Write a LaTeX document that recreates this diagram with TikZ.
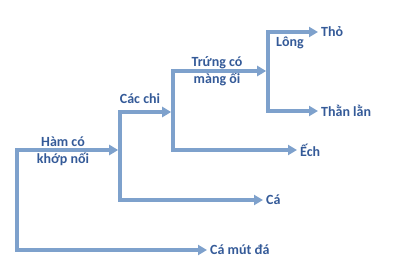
\documentclass[tikz,border=0pt]{standalone}
\usepackage{fontspec}
\setmainfont{Carlito}
\usetikzlibrary{arrows.meta}
\definecolor{linkblue}{RGB}{126,161,204}
\definecolor{textblue}{RGB}{52,90,152}

\begin{document}
\begin{tikzpicture}[x=1pt, y=-1pt,
        every node/.style={font=\fontsize{14}{17}\selectfont\bfseries, text=textblue},
        clade/.style={{Triangle[length=9pt,width=10pt]}-{Triangle[length=9pt,width=10pt]},
            line width=3.5pt, draw=linkblue, line join=miter},
        taxon/.style={anchor=west, inner sep=3pt},
        trait/.style={align=center, inner sep=1pt}
      ]
      \useasboundingbox (0,0) rectangle (394,274);

      % gốc của từng nhánh
      \coordinate (hamT)   at (17,150);
      \coordinate (hamB)   at (17,250);
      \coordinate (chiT)   at (120,112);
      \coordinate (chiB)   at (120,200);
      \coordinate (trungT) at (173,71);
      \coordinate (trungB) at (173,150);
      \coordinate (longT)  at (268,32);
      \coordinate (longB)  at (268,111);

      \coordinate (chiIn)   at (118.2,150);
      \coordinate (trungIn) at (171.2,112);
      \coordinate (longIn)  at (266.2,71);

      % các loài
      \node[taxon] (mut)  at (207,250) {Cá mút đá};
      \node[taxon] (ca)   at (263,200) {Cá};
      \node[taxon] (ech)  at (297,150) {Ếch};
      \node[taxon] (tho)  at (318,32)  {Thỏ};
      \node[taxon] (than) at (318,111) {Thằn lằn};

      % các đặc điểm
      \node[trait] (ham)   at (63,151)  {Hàm có\\khớp nối};
      \node[trait] (chi)   at (140,99)  {Các chi};
      \node[trait] (trung) at (217,71)  {Trứng có\\màng ối};
      \node[trait] (long)  at (290,43)  {Lông};

      \draw[clade] (chiIn)   -- (hamT)   -- (hamB)   -- (mut.west);
      \draw[clade] (trungIn) -- (chiT)   -- (chiB)   -- (ca.west);
      \draw[clade] (longIn)  -- (trungT) -- (trungB) -- (ech.west);
      \draw[clade] (tho.west) -- (longT) -- (longB)  -- (than.west);
    \end{tikzpicture}
\end{document}
